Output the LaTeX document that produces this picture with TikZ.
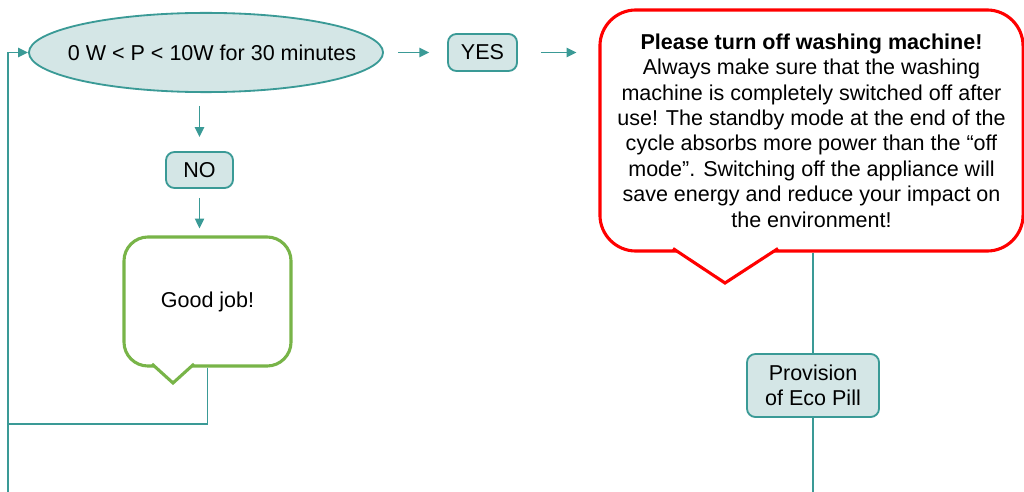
\documentclass[tikz,border=0pt]{standalone}
\usepackage{fontspec}
\setmainfont{Liberation Sans}
\usepackage{tikz}
\usetikzlibrary{arrows.meta, positioning, shapes.geometric}

\definecolor{tealline}{HTML}{3A9A96}
\definecolor{tealfill}{HTML}{D4E6E6}
\definecolor{okgreen}{HTML}{78B448}
\definecolor{warnred}{HTML}{FF0000}

\tikzset{
	box/.style={draw=tealline, fill=tealfill, line width=1.3pt, rounded corners=6pt, inner sep=0pt, align=center},
	flow/.style={tealline, line width=1.3pt},
	arr/.style={flow, -{Triangle[length=7pt, width=6.5pt]}},
	bubble/.style={fill=white, line width=2.2pt, align=center, inner sep=0pt},
}

\begin{document}
\begin{tikzpicture}[x=0.025cm, y=-0.025cm, font=\fontsize{15.3}{18.1}\selectfont]
	\useasboundingbox (0,0) rectangle (1024,492);
	% Nodes:
	\node[ellipse, draw=tealline, fill=tealfill, line width=1.3pt, minimum width=8.85cm, minimum height=1.98cm, inner sep=0pt] (cond) at (206, 52.5) {\makebox[0pt]{\hspace{8.5pt}0 W < P < 10W for 30 minutes}};
	\node[box, minimum width=1.725cm, minimum height=0.925cm] (yes) at (482.5, 52.5) {YES};
	\node[box, minimum width=1.675cm, minimum height=0.9cm] (no) at (199.5, 170) {NO};
	\node[box, minimum width=3.3cm, minimum height=1.575cm] (prov) at (813, 385.5) {Provision\\of Eco Pill};
	\node[bubble, draw=warnred, rounded corners=0.9cm, minimum width=10.575cm, minimum height=6.025cm] (warn) at (811.5, 130.5)
		{\textbf{Please turn off washing machine!}\\Always make sure that the washing\\machine is completely switched off after\\use! The standby mode at the end of the\\cycle absorbs more power than the “off\\mode”. Switching off the appliance will\\save energy and reduce your impact on\\the environment!};
	\node[bubble, draw=okgreen, rounded corners=0.6cm, minimum width=4.175cm, minimum height=3.225cm] (gj) at (207.5, 301.5) {Good job!};
	% Bubble tails:
	\filldraw[fill=white, draw=warnred, line width=2.2pt] (673, 248.5) -- (725, 283) -- (778, 248.5);
	\filldraw[fill=white, draw=okgreen, line width=2.2pt] (152, 364) -- (173, 383) -- (194, 364);
	% Free ends:
	\coordinate (loopstart) at (8, 492);
	\coordinate (loopjoin) at (8, 424);
	\coordinate (provend) at (813, 492);
	% Connectors:
	\draw[arr, shorten <=10pt, shorten >=12.7pt] (cond.east |- yes.west) -- (yes.west);
	\draw[arr, shorten <=16.3pt, shorten >=15.6pt] (yes.east) -- (yes.east -| warn.west);
	\draw[arr, shorten <=9.2pt, shorten >=10pt] (no.north |- cond.south) -- (no.north);
	\draw[arr, shorten <=6.4pt, shorten >=5pt] (no.south) -- (no.south |- gj.north);
	\draw[arr] (loopstart) |- (cond.west);
	\draw[flow] (gj.south) |- (loopjoin);
	\draw[flow] (prov.north |- warn.south) -- (prov.north);
	\draw[flow] (prov.south) -- (provend);
\end{tikzpicture}
\end{document}
